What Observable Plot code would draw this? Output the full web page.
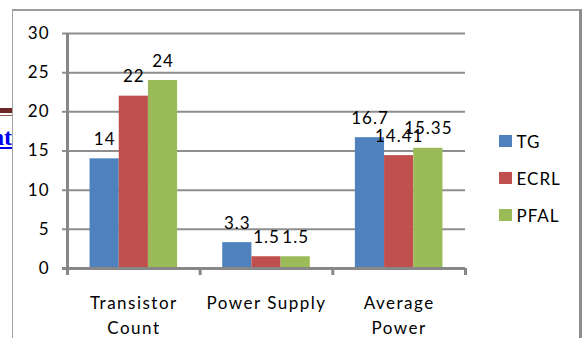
<!DOCTYPE html>
<html>
<head>
<meta charset="utf-8">
<script src="https://cdn.jsdelivr.net/npm/d3@7"></script>
<script src="https://cdn.jsdelivr.net/npm/@observablehq/plot@0.6"></script>
<style>
  body { margin: 0; background: #fff; }
  #wrap { position: relative; width: 584px; height: 338px; overflow: hidden; font-family: Lato, "Open Sans", sans-serif; }
  #frame { position: absolute; left: 12px; top: 9px; width: 566px; height: 360px;
           border-top: 2px solid #9c9c9c; border-left: 1.5px solid #a4a4a4; border-right: 3px solid #8c8c8c; }
  #bar1 { position: absolute; left: 0; top: 108px; width: 12px; height: 5px; background: #6e2626; }
  #bar2 { position: absolute; left: 0; top: 115px; width: 12px; height: 1px; background: #9a5a5a; }
  #link { position: absolute; left: 0; top: 123px; width: 12px; height: 30px; overflow: hidden;
          direction: rtl; white-space: nowrap; font: bold 24px "Liberation Serif", serif;
          color: #0000ee; text-decoration: underline; line-height: 28px; }
  #chart { position: absolute; left: 0; top: 0; }
  #legend { position: absolute; left: 499px; top: 0; font-size: 17px; color: #000; }
  .item { position: absolute; left: 0; display: flex; align-items: center; white-space: nowrap; letter-spacing: 1px; }
  .swatch { width: 12.5px; height: 12.5px; margin-right: 5px; }
</style>
</head>
<body>
<div id="wrap">
  <div id="frame"></div>
  <div id="bar1"></div>
  <div id="bar2"></div>
  <div id="link">nt</div>
  <div id="chart"></div>
  <div id="legend"></div>
</div>
<script>
// Categories, series and values
const categories = ["Transistor\nCount", "Power Supply", "Average\nPower"];
const seriesNames = ["TG", "ECRL", "PFAL"];
const tgValues = [14, 3.3, 16.7];
const ecrlValues = [22, 1.5, 14.41];
const pfalValues = [24, 1.5, 15.35];
const yTicks = [0, 5, 10, 15, 20, 25, 30];
const seriesColors = ["#4F81BD", "#C0504D", "#9BBB59"];

const valuesBySeries = [tgValues, ecrlValues, pfalValues];

// Each category occupies one unit of x; the three bars sit centred inside it.
const barWidth = 0.22;
const groupPad = (1 - seriesNames.length * barWidth) / 2;

const rows = categories.flatMap((cat, i) =>
  seriesNames.map((s, j) => ({
    category: cat,
    series: s,
    value: valuesBySeries[j][i],
    x1: i + groupPad + j * barWidth,
    x2: i + groupPad + (j + 1) * barWidth
  }))
);

const gridColor = "#8e8e8e";
const axisColor = "#878787";

const chart = Plot.plot({
  width: 584,
  height: 338,
  marginLeft: 67,
  marginRight: 119,
  marginTop: 33,
  marginBottom: 70,
  style: { fontFamily: "Lato, 'Open Sans', sans-serif", fontSize: "17px", letterSpacing: "1px", background: "transparent", color: "#000" },
  x: { domain: [0, categories.length], axis: null },
  y: { domain: [0, 30], axis: null },
  color: { domain: seriesNames, range: seriesColors },
  marks: [
    // horizontal gridlines with their short tick stubs on the left
    Plot.ruleY(yTicks.filter(d => d > 0), { y: d => d, stroke: gridColor, strokeWidth: 2, insetLeft: -5 }),
    // bars
    Plot.rectY(rows, { x1: "x1", x2: "x2", y: "value", fill: "series" }),
    // value labels
    Plot.text(rows, {
      x: d => (d.x1 + d.x2) / 2, y: "value", text: d => String(d.value),
      dy: -14, lineAnchor: "bottom", fill: "#000"
    }),
    // baseline and vertical axis
    Plot.ruleY([0], { y: d => d, stroke: axisColor, strokeWidth: 3, insetLeft: -5 }),
    Plot.ruleX([0], { x: d => d, y1: 30, y2: 0, stroke: axisColor, strokeWidth: 3, insetBottom: -7 }),
    // category separators below the baseline
    Plot.ruleX(d3.range(1, categories.length + 1), { x: d => d, y1: 0, y2: 0, stroke: axisColor, strokeWidth: 3, insetBottom: -7 }),
    // y tick labels
    Plot.text(yTicks, {
      y: d => d, text: d => String(d), frameAnchor: "left", textAnchor: "end",
      dx: -18, lineAnchor: "middle", fill: "#000"
    }),
    // category labels
    Plot.text(categories, {
      x: (d, i) => i + 0.5, text: d => d, frameAnchor: "bottom",
      lineAnchor: "top", dy: 23, lineHeight: 1.47, fill: "#000"
    })
  ]
});
// category labels are set a little wider than the rest
const textGroups = chart.querySelectorAll('g[aria-label="text"]');
textGroups[textGroups.length - 1].style.letterSpacing = "1.5px";
document.getElementById("chart").appendChild(chart);

// Legend
const legend = document.getElementById("legend");
const legendTops = [141, 178, 215];
seriesNames.forEach((s, j) => {
  const item = document.createElement("div");
  item.className = "item";
  item.style.top = (legendTops[j] - 11) + "px";
  item.style.height = "22px";
  const sw = document.createElement("div");
  sw.className = "swatch";
  sw.style.background = seriesColors[j];
  const label = document.createElement("span");
  label.textContent = s;
  item.appendChild(sw);
  item.appendChild(label);
  legend.appendChild(item);
});
</script>
</body>
</html>
